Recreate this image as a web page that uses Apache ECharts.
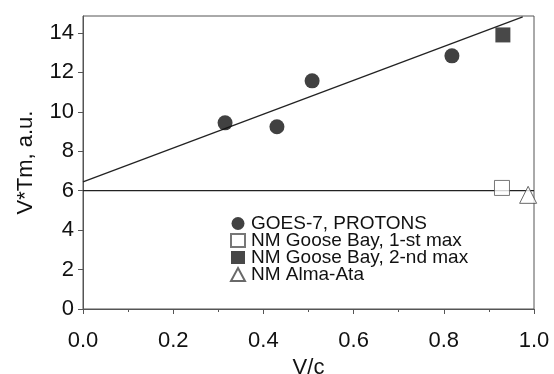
<!DOCTYPE html>
<html>
<head>
<meta charset="utf-8">
<script src="https://cdn.jsdelivr.net/npm/echarts@6/dist/echarts.min.js"></script>
<style>html,body{margin:0;padding:0;background:#fff}#c{width:554px;height:374px}</style>
</head>
<body>
<div id="c"></div>
<script>
var xTicks = [0, 0.2, 0.4, 0.6, 0.8, 1.0];
var yTicks = [0, 2, 4, 6, 8, 10, 12, 14];
var goesProtons = [[0.315, 9.44], [0.430, 9.24], [0.508, 11.57], [0.818, 12.84]];
var gooseBay1st = [[0.929, 6.14]];
var gooseBay2nd = [[0.931, 13.9]];
var almaAta = [[0.987, 5.79]];
var fitLine = [[0, 6.45], [0.975, 14.82]];
var levelLine = [[0, 6.0], [1.0, 6.0]];

var FONT = 'Liberation Sans, Arial, sans-serif';
var chart = echarts.init(document.getElementById('c'));
chart.setOption({
  animation: false,
  backgroundColor: '#fff',
  grid: {left: 83, right: 20, top: 16, bottom: 65, show: true, borderColor: '#555', borderWidth: 1,
    containLabel: false, outerBoundsMode: 'none'},
  legend: {
    orient: 'vertical', left: 225, top: 209, itemGap: -2, itemWidth: 14, itemHeight: 13,
    textStyle: {fontFamily: FONT, fontSize: 19, color: '#111', lineHeight: 17, padding: [0, 0, 0, 1]},
    data: [
      {name: 'GOES-7, PROTONS', icon: 'circle'},
      {name: 'NM Goose Bay, 1-st max', icon: 'rect'},
      {name: 'NM Goose Bay, 2-nd max', icon: 'rect'},
      {name: 'NM Alma-Ata', icon: 'triangle'}
    ]
  },
  xAxis: {
    type: 'value', min: 0, max: 1, interval: 0.2,
    name: 'V/c', nameLocation: 'middle', nameGap: 46,
    nameTextStyle: {fontFamily: FONT, fontSize: 22, color: '#111'},
    axisLine: {lineStyle: {color: '#555', width: 1}},
    axisTick: {show: true, inside: false, length: 5, lineStyle: {color: '#555'}},
    minorTick: {show: true, splitNumber: 2, length: 3, lineStyle: {color: '#555'}},
    splitLine: {show: false},
    axisLabel: {fontFamily: FONT, fontSize: 22, color: '#111', margin: 21,
      customValues: xTicks, formatter: function (v) { return v.toFixed(1); }}
  },
  yAxis: {
    type: 'value', min: 0, max: 14.86,
    name: 'V*Tm, a.u.', nameLocation: 'middle', nameGap: 46,
    nameTextStyle: {fontFamily: FONT, fontSize: 22, color: '#111'},
    axisLine: {show: true, lineStyle: {color: '#555', width: 1}},
    axisTick: {show: true, length: 5, customValues: yTicks, lineStyle: {color: '#555'}},
    splitLine: {show: false},
    axisLabel: {fontFamily: FONT, fontSize: 22, color: '#111', margin: 9, customValues: yTicks}
  },
  series: [
    {type: 'line', data: fitLine, symbol: 'none', silent: true, clip: false,
      lineStyle: {color: '#222', width: 1.3}, z: 1},
    {type: 'line', data: levelLine, symbol: 'none', silent: true,
      lineStyle: {color: '#222', width: 1.3}, z: 1},
    {name: 'GOES-7, PROTONS', type: 'scatter', data: goesProtons, symbol: 'circle', symbolSize: 15,
      itemStyle: {color: '#111'}, z: 3},
    {name: 'NM Goose Bay, 1-st max', type: 'scatter', data: gooseBay1st, symbol: 'rect', symbolSize: 15,
      itemStyle: {color: '#fff', borderColor: '#555', borderWidth: 1}, z: 3},
    {name: 'NM Goose Bay, 2-nd max', type: 'scatter', data: gooseBay2nd, symbol: 'rect', symbolSize: 15,
      itemStyle: {color: '#1a1a1a'}, z: 3},
    {name: 'NM Alma-Ata', type: 'scatter', data: almaAta, symbol: 'triangle', symbolSize: 17, clip: false,
      itemStyle: {color: '#fff', borderColor: '#444', borderWidth: 1}, z: 3}
  ]
});
</script>
</body>
</html>
